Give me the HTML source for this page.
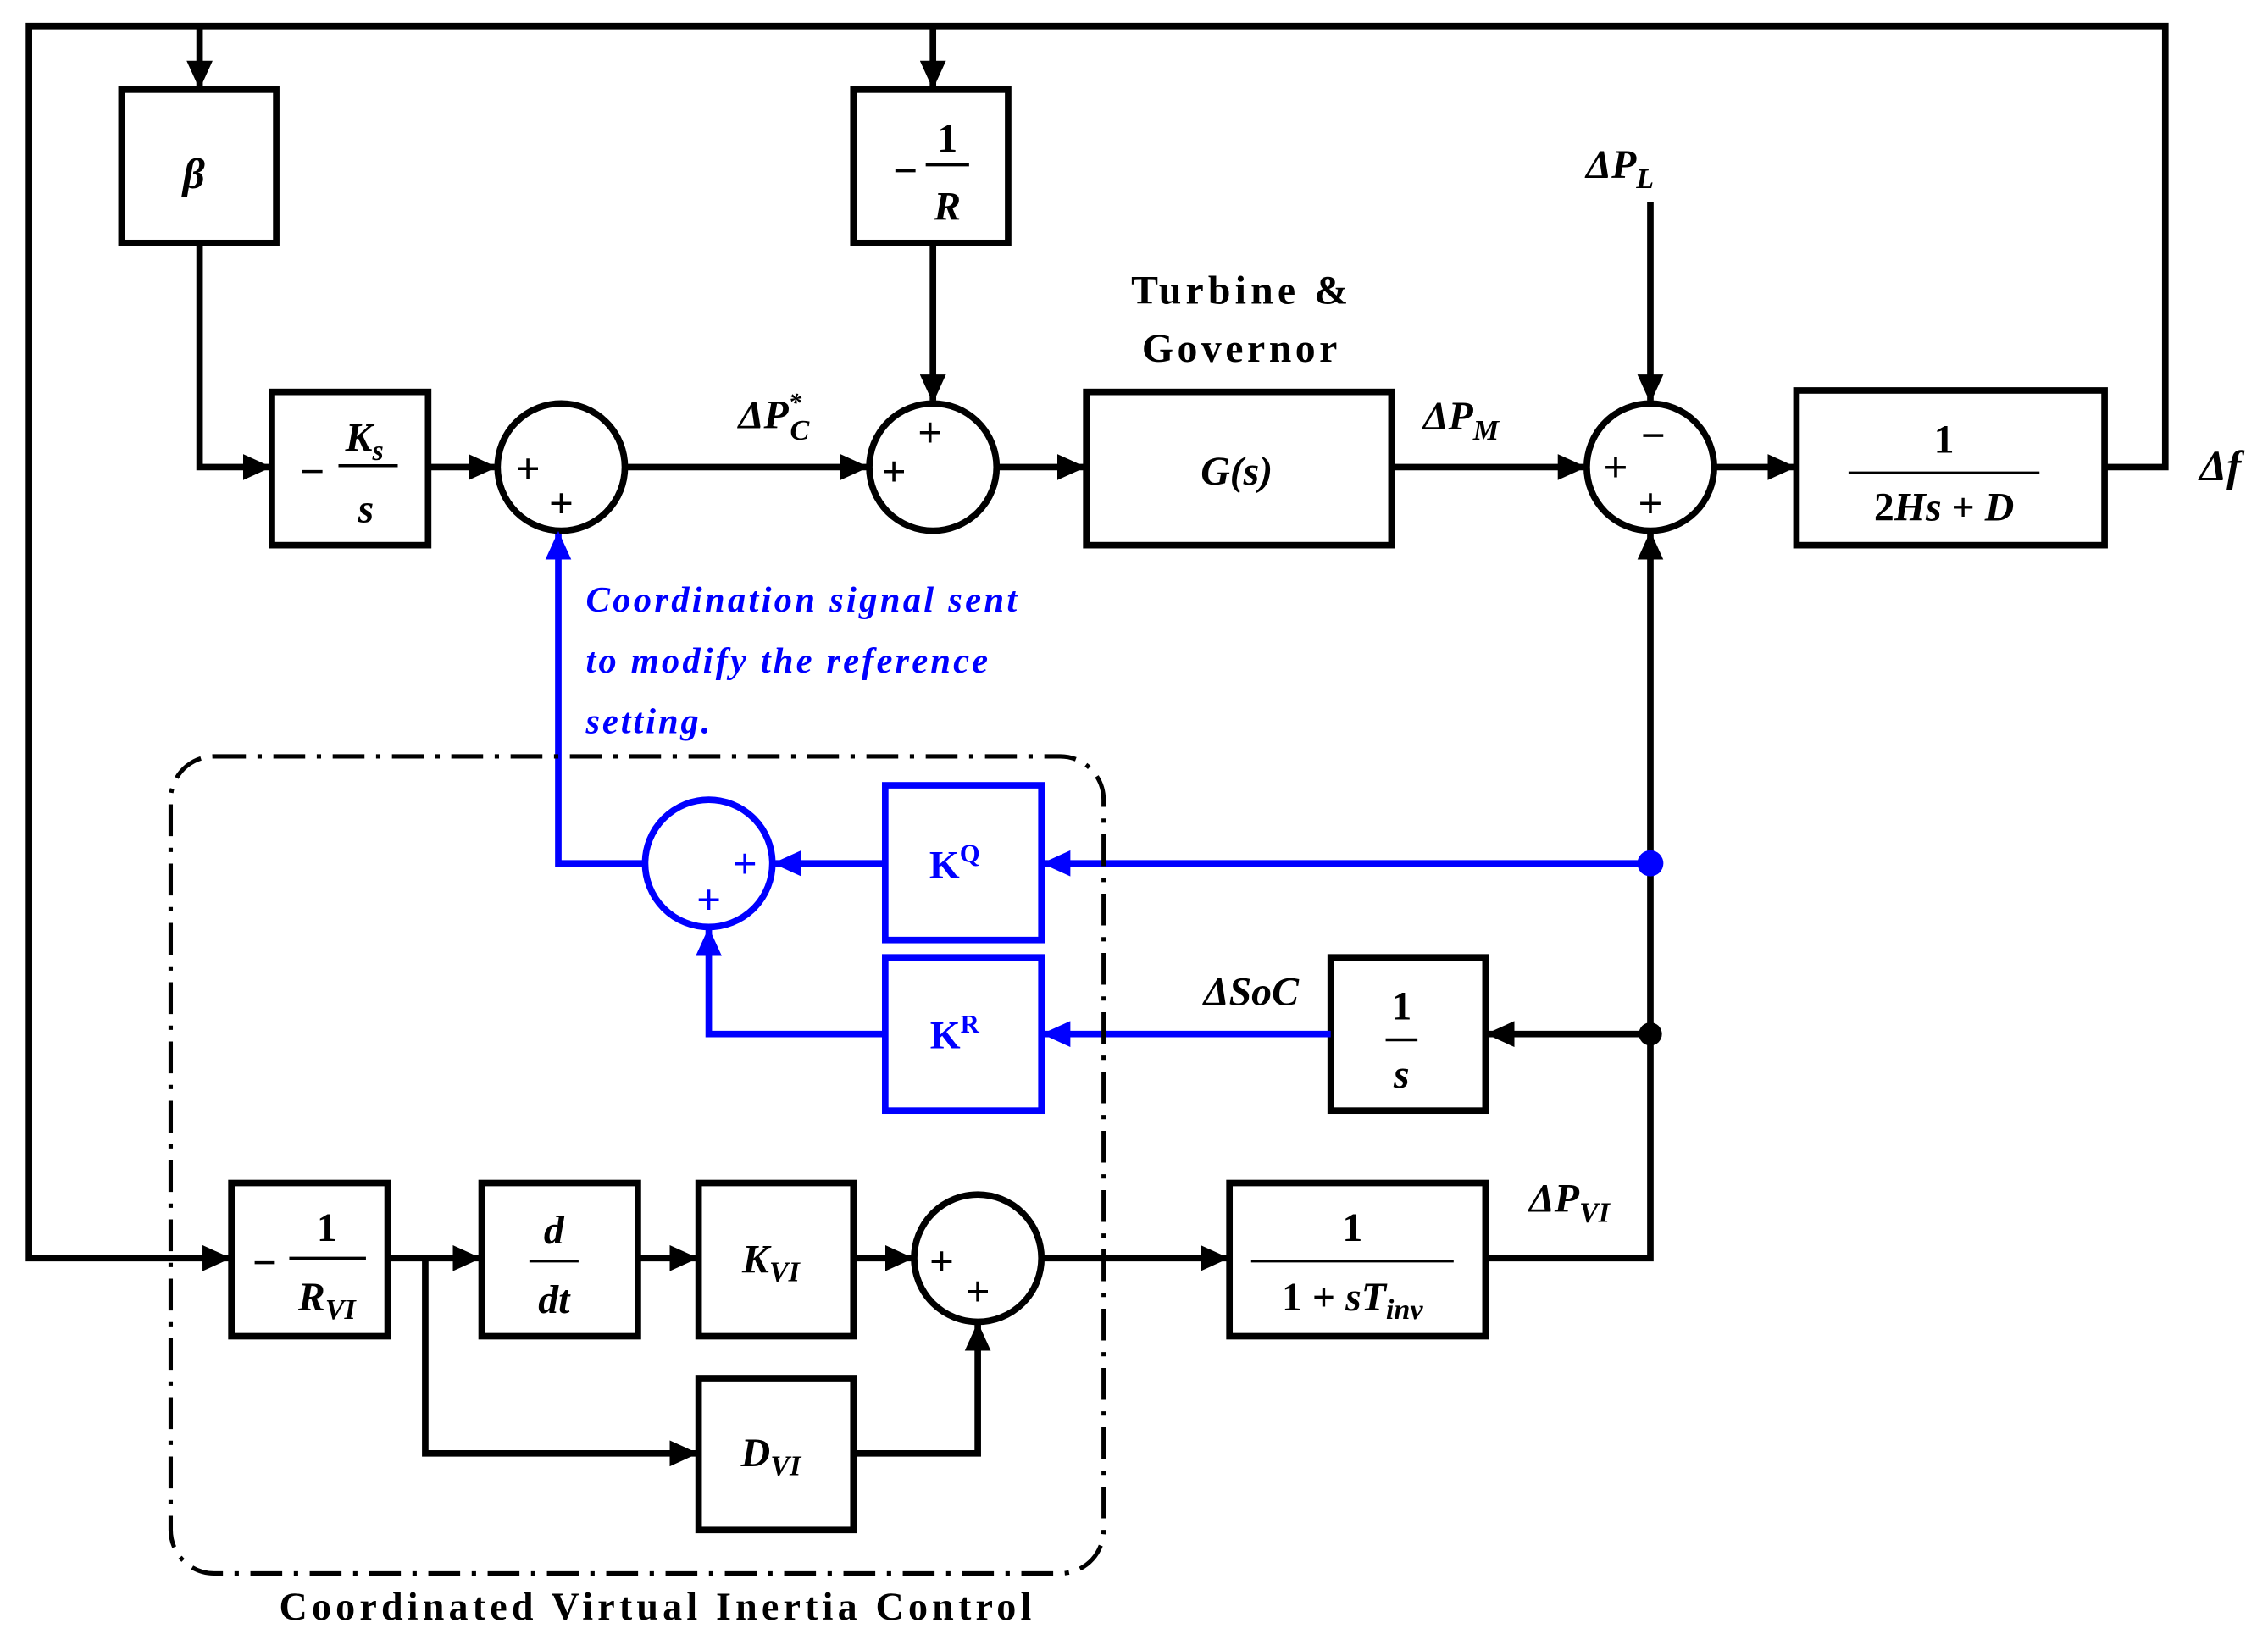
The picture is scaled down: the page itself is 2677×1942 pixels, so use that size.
<!DOCTYPE html>
<html><head><meta charset="utf-8"><style>
html,body{margin:0;padding:0;background:#fff}
svg{display:block}
text{font-family:"Liberation Serif",serif;font-weight:bold}
</style></head><body>
<svg width="2677" height="1942" viewBox="0 0 1568 1137.5" preserveAspectRatio="none" xmlns="http://www.w3.org/2000/svg">
<defs>
<marker id="ak" markerWidth="4.4" markerHeight="4" refX="4" refY="2" orient="auto" markerUnits="strokeWidth"><path d="M0,0 L4.4,2 L0,4 z" fill="#000"/></marker>
<marker id="ab" markerWidth="4.4" markerHeight="4" refX="4" refY="2" orient="auto" markerUnits="strokeWidth"><path d="M0,0 L4.4,2 L0,4 z" fill="#00f"/></marker>
</defs>
<g fill="none" stroke="#000" stroke-width="4.5">
<polyline points="1455,323 1497,323 1497,18 20,18 20,870 158,870" marker-end="url(#ak)"/>
<line x1="138" y1="18" x2="138" y2="60" marker-end="url(#ak)"/>
<line x1="645" y1="18" x2="645" y2="60" marker-end="url(#ak)"/>
<rect x="84" y="62" width="107" height="106"/>
<rect x="590" y="62" width="107" height="106"/>
<polyline points="138,168 138,323 186,323" marker-end="url(#ak)"/>
<rect x="188" y="271" width="108" height="106"/>
<line x1="296" y1="323" x2="342" y2="323" marker-end="url(#ak)"/>
<circle cx="388" cy="323" r="44"/>
<line x1="432" y1="323" x2="599" y2="323" marker-end="url(#ak)"/>
<line x1="645" y1="168" x2="645" y2="277" marker-end="url(#ak)"/>
<circle cx="645" cy="323" r="44"/>
<line x1="689" y1="323" x2="749" y2="323" marker-end="url(#ak)"/>
<rect x="751" y="271" width="211" height="106"/>
<line x1="962" y1="323" x2="1095" y2="323" marker-end="url(#ak)"/>
<line x1="1141" y1="140" x2="1141" y2="277" marker-end="url(#ak)"/>
<circle cx="1141" cy="323" r="44"/>
<line x1="1185" y1="323" x2="1240" y2="323" marker-end="url(#ak)"/>
<rect x="1242" y="270" width="213" height="107"/>
<polyline points="1027,870 1141,870 1141,369" marker-end="url(#ak)"/>
<line x1="1141" y1="715" x2="1029" y2="715" marker-end="url(#ak)"/>
<rect x="920" y="662" width="107" height="106"/>
<rect x="160" y="818" width="108" height="106"/>
<line x1="268" y1="870" x2="331" y2="870" marker-end="url(#ak)"/>
<rect x="333" y="818" width="108" height="106"/>
<line x1="441" y1="870" x2="481" y2="870" marker-end="url(#ak)"/>
<rect x="483" y="818" width="107" height="106"/>
<line x1="590" y1="870" x2="630" y2="870" marker-end="url(#ak)"/>
<circle cx="676" cy="870" r="44"/>
<polyline points="294,870 294,1005 481,1005" marker-end="url(#ak)"/>
<rect x="483" y="953" width="107" height="105"/>
<polyline points="590,1005 676,1005 676,916" marker-end="url(#ak)"/>
<line x1="720" y1="870" x2="848" y2="870" marker-end="url(#ak)"/>
<rect x="850" y="818" width="177" height="106"/>
</g>
<circle cx="1141" cy="715" r="8" fill="#000"/>
<g fill="none" stroke="#00f" stroke-width="4.5">
<line x1="1141" y1="597" x2="722" y2="597" marker-end="url(#ab)"/>
<rect x="612" y="543" width="108" height="107"/>
<line x1="612" y1="597" x2="536" y2="597" marker-end="url(#ab)"/>
<circle cx="490" cy="597" r="44"/>
<line x1="920" y1="715" x2="722" y2="715" marker-end="url(#ab)"/>
<rect x="612" y="662" width="108" height="106"/>
<polyline points="612,715 490,715 490,643" marker-end="url(#ab)"/>
<polyline points="446,597 386,597 386,369" marker-end="url(#ab)"/>
</g>
<circle cx="1141" cy="597" r="9" fill="#00f"/>
<rect x="118" y="523" width="645" height="565" rx="30" fill="none" stroke="#000" stroke-width="3" stroke-dasharray="22 8 3 8"/>
<g font-size="30" fill="#000" text-anchor="middle">
<text x="134" y="130" font-style="italic">β</text>
<text x="626" y="128">−</text>
<text x="655" y="105" font-size="28">1</text>
<line x1="640" y1="114" x2="670" y2="114" stroke="#000" stroke-width="2"/>
<text x="655" y="152" font-style="italic" font-size="28">R</text>
<text x="216" y="336">−</text>
<text x="252" y="312" font-style="italic" font-size="28">K<tspan font-size="20" dy="6">s</tspan></text>
<line x1="234" y1="322" x2="275" y2="322" stroke="#000" stroke-width="2"/>
<text x="253" y="361" font-style="italic" font-size="28">s</text>
<text x="365" y="334" font-size="30" font-weight="normal">+</text>
<text x="388" y="358" font-size="30" font-weight="normal">+</text>
<text x="535" y="296" font-style="italic" font-size="28">ΔP<tspan font-size="18" dy="-12">*</tspan><tspan font-size="20" dy="20" dx="-8">C</tspan></text>
<text x="643" y="309" font-size="30" font-weight="normal">+</text>
<text x="618" y="336" font-size="30" font-weight="normal">+</text>
<text x="857" y="210" font-size="28" textLength="150">Turbine &amp;</text>
<text x="857" y="250" font-size="28" textLength="135">Governor</text>
<text x="855" y="335" font-style="italic" font-size="28">G(s)</text>
<text x="1010" y="297" font-style="italic" font-size="28">ΔP<tspan font-size="20" dy="7">M</tspan></text>
<text x="1120" y="123" font-style="italic" font-size="28">ΔP<tspan font-size="20" dy="7">L</tspan></text>
<text x="1117" y="333" font-size="30" font-weight="normal">+</text>
<text x="1143" y="311" font-size="30" font-weight="normal">−</text>
<text x="1141" y="358" font-size="30" font-weight="normal">+</text>
<text x="1344" y="313" font-size="28">1</text>
<line x1="1278" y1="327" x2="1410" y2="327" stroke="#000" stroke-width="2"/>
<text x="1344" y="360" font-size="28">2<tspan font-style="italic">Hs</tspan> + <tspan font-style="italic">D</tspan></text>
<text x="1535" y="332" font-style="italic" font-size="30">Δf</text>
<text x="865" y="695" font-style="italic" font-size="28">ΔSoC</text>
<text x="969" y="705" font-size="28">1</text>
<line x1="958" y1="719" x2="980" y2="719" stroke="#000" stroke-width="2"/>
<text x="969" y="752" font-style="italic" font-size="28">s</text>
<text x="183" y="883">−</text>
<text x="226" y="858" font-size="28">1</text>
<line x1="200" y1="870" x2="253" y2="870" stroke="#000" stroke-width="2"/>
<text x="226" y="906" font-style="italic" font-size="28">R<tspan font-size="20" dy="6">VI</tspan></text>
<text x="383" y="860" font-style="italic" font-size="28">d</text>
<line x1="366" y1="872" x2="400" y2="872" stroke="#000" stroke-width="2"/>
<text x="383" y="908" font-style="italic" font-size="28">dt</text>
<text x="533" y="880" font-style="italic" font-size="28">K<tspan font-size="20" dy="6">VI</tspan></text>
<text x="651" y="882" font-size="30" font-weight="normal">+</text>
<text x="676" y="903" font-size="30" font-weight="normal">+</text>
<text x="533" y="1014" font-style="italic" font-size="28">D<tspan font-size="20" dy="6">VI</tspan></text>
<text x="935" y="858" font-size="28">1</text>
<line x1="865" y1="872" x2="1005" y2="872" stroke="#000" stroke-width="2"/>
<text x="935" y="906" font-size="28">1 + <tspan font-style="italic">sT</tspan><tspan font-size="20" dy="6" font-style="italic">inv</tspan></text>
<text x="1085" y="838" font-style="italic" font-size="28">ΔP<tspan font-size="20" dy="7">VI</tspan></text>
<text x="453" y="1120" font-size="27" textLength="520">Coordinated Virtual Inertia Control</text>
</g>
<g fill="#00f" font-size="27">
<text x="660" y="607" text-anchor="middle">K<tspan font-size="18" dy="-11">Q</tspan></text>
<text x="660" y="725" text-anchor="middle">K<tspan font-size="18" dy="-11">R</tspan></text>
<text x="515" y="607" text-anchor="middle" font-size="30" font-weight="normal">+</text>
<text x="490" y="632" text-anchor="middle" font-size="30" font-weight="normal">+</text>
<text x="405" y="423" font-style="italic" font-size="25" textLength="298">Coordination signal sent</text>
<text x="405" y="465" font-style="italic" font-size="25" textLength="278">to modify the reference</text>
<text x="405" y="507" font-style="italic" font-size="25" textLength="86">setting.</text>
</g>
</svg>
</body></html>
